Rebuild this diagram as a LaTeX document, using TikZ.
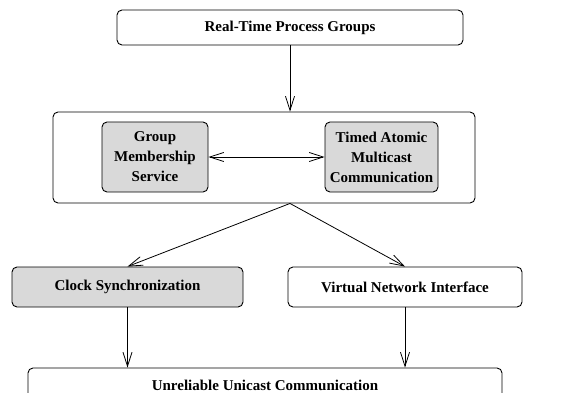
\documentclass[tikz,border=0pt]{standalone}
\usepackage{fontspec}
\setmainfont{Liberation Serif}
\usetikzlibrary{arrows.meta}
\tikzset{
  layer/.style={draw, rounded corners=5pt, line width=0.9pt, align=center,
    font=\bfseries\fontsize{15}{20}\selectfont, inner sep=0pt},
  shaded/.style={layer, fill=gray!30},
  flow/.style={line width=0.8pt, -{Straight Barb[length=14pt,width=9pt]}}
}
\begin{document}
\begin{tikzpicture}[x=1pt,y=-1pt]
  \useasboundingbox (0,0) rectangle (573,393);
  \node[layer, minimum width=346pt, minimum height=35pt] (rtpg) at (290,27.5) {Real-Time Process Groups};
  \node[layer, minimum width=422pt, minimum height=91pt] (core) at (264,157.5) {};
  \node[shaded, minimum width=106pt, minimum height=70pt] (gms) at (155,157) {Group\\Membership\\Service};
  \node[shaded, minimum width=113pt, minimum height=70pt] (tamc) at (381.5,157) {Timed Atomic\\Multicast\\Communication};
  \node[shaded, minimum width=231pt, minimum height=40pt] (clock) at (127.5,287) {Clock Synchronization};
  \node[layer, minimum width=234pt, minimum height=40pt] (vni) at (405,287) {Virtual Network Interface};
  \node[layer, minimum width=474pt, minimum height=34pt] (uuc) at (265,385) {Unreliable Unicast Communication};
  % connectors
  \coordinate (split) at (core.south -| rtpg.south);
  \draw[flow] (rtpg.south) -- (rtpg.south |- core.north);
  \draw[flow, {Straight Barb[length=14pt,width=9pt]}-{Straight Barb[length=14pt,width=9pt]}] (gms) -- (tamc);
  \draw[flow] (split) -- (clock.north);
  \draw[flow] (split) -- (vni.north);
  \draw[flow] (clock.south) -- (clock.south |- uuc.north);
  \draw[flow] (vni.south) -- (vni.south |- uuc.north);
\end{tikzpicture}
\end{document}
